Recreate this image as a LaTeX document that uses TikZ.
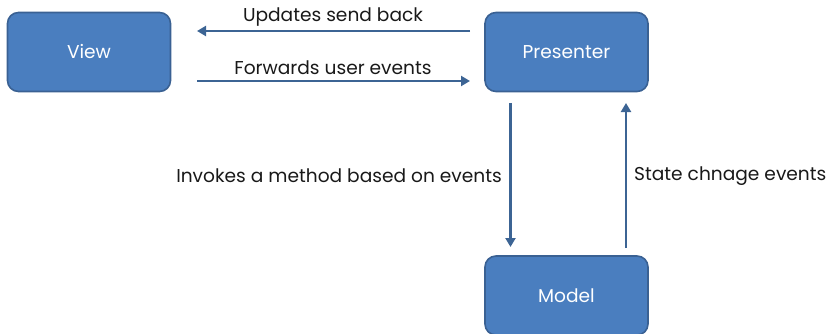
\documentclass[tikz,border=0pt]{standalone}
\usepackage{fontspec}
\setmainfont{Poppins}
\usetikzlibrary{arrows.meta}
\definecolor{boxfill}{HTML}{4A7EBF}
\definecolor{boxline}{HTML}{3A6193}
\definecolor{arrowc}{HTML}{3C6494}
\begin{document}
\begin{tikzpicture}[x=1pt,y=-1pt,
  box/.style={draw=boxline,line width=1.6pt,fill=boxfill,rounded corners=11pt,
    minimum width=163pt,minimum height=79pt,text=white,font=\fontsize{18.6}{22}\selectfont,inner sep=0pt},
  conn/.style={draw=arrowc,line width=2.2pt,-{Triangle[length=9pt,width=10pt]}},
  lbl/.style={font=\fontsize{18.6}{22}\selectfont,text=black!90,inner sep=0pt}]
\useasboundingbox (0,0) rectangle (826,334);
\node[box] (view) at (89,52) {View};
\node[box] (pres) at (566.5,52) {Presenter};
\node[box] (model) at (566.5,295.5) {Model};
\coordinate (a1s) at (470,31);
\coordinate (a1e) at (197,31);
\coordinate (a2s) at (197,81);
\coordinate (a2e) at (470,81);
\coordinate (a3s) at (510.5,103);
\coordinate (a3e) at (510.5,247);
\coordinate (a4s) at (626,248);
\coordinate (a4e) at (626,103);
\draw[conn] (a1s) -- (a1e);
\draw[conn] (a2s) -- (a2e);
\draw[conn] (a3s) -- (a3e);
\draw[conn] (a4s) -- (a4e);
\node[lbl] (t1) at (333,17.5) {Updates send back};
\node[lbl] (t2) at (333,68) {Forwards user events};
\node[lbl,anchor=east] (t3) at (502,176) {Invokes a method based on events};
\node[lbl,anchor=west] (t4) at (634,176) {State chnage events};
\end{tikzpicture}
\end{document}
